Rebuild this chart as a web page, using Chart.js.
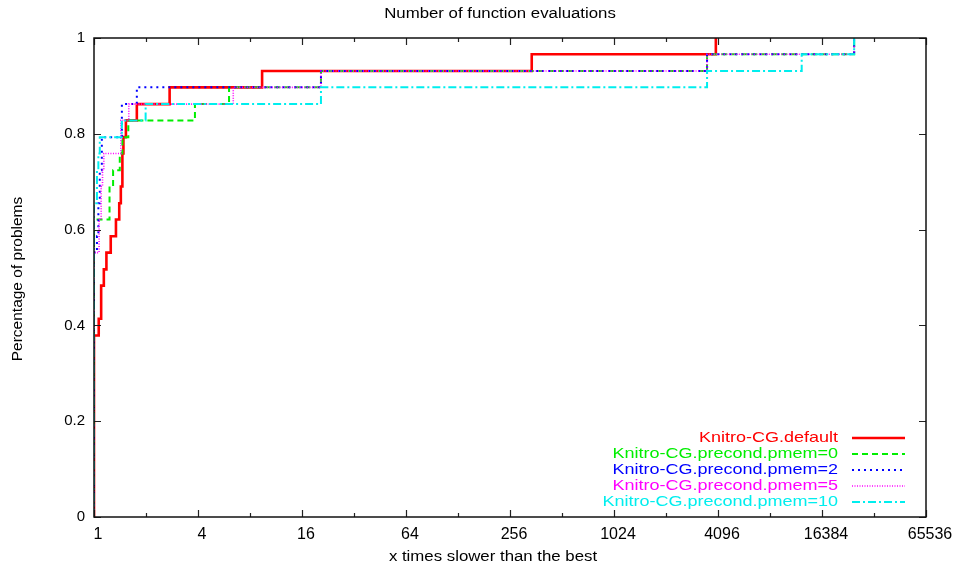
<!DOCTYPE html>
<html>
<head>
<meta charset="utf-8">
<script src="https://cdn.jsdelivr.net/npm/chart.js@4.4.1/dist/chart.umd.min.js"></script>
<style>
  html, body { margin: 0; padding: 0; background: #fff; }
  #wrap { width: 959px; height: 569px; }
</style>
</head>
<body>
<div id="wrap"><canvas id="chart" width="959" height="569"></canvas></div>
<script>
// performance ratio (x) where each profile steps up, and fraction solved (y)
var ratioDefault = [1, 1, 1.065, 1.10, 1.14, 1.18, 1.25, 1.34, 1.40, 1.43, 1.46, 1.48, 1.53, 1.77, 2.74, 9.4, 342, 3980];
var fracDefault  = [0, 0.379, 0.414, 0.483, 0.517, 0.552, 0.586, 0.621, 0.655, 0.690, 0.759, 0.793, 0.828, 0.862, 0.897, 0.931, 0.966, 1.0];

var ratioPmem0 = [1, 1, 1.23, 1.29, 1.41, 1.46, 1.58, 3.84, 6.05, 20.6, 3540, 25150];
var fracPmem0  = [0, 0.621, 0.690, 0.724, 0.759, 0.793, 0.828, 0.862, 0.897, 0.931, 0.966, 1.0];

var ratioPmem2 = [1, 1, 1.04, 1.06, 1.08, 1.11, 1.45, 1.77, 20.6, 3540, 25150];
var fracPmem2  = [0, 0.552, 0.586, 0.655, 0.724, 0.793, 0.862, 0.897, 0.931, 0.966, 1.0];

var ratioPmem5 = [1, 1, 1.07, 1.10, 1.12, 1.14, 1.43, 1.59, 6.4, 20.6, 3540, 25150];
var fracPmem5  = [0, 0.552, 0.621, 0.690, 0.724, 0.759, 0.828, 0.862, 0.897, 0.931, 0.966, 1.0];

var ratioPmem10 = [1, 1, 1.04, 1.06, 1.08, 1.45, 1.99, 20.6, 3540, 12500, 25150];
var fracPmem10  = [0, 0.655, 0.724, 0.759, 0.793, 0.828, 0.862, 0.897, 0.931, 0.966, 1.0];

var seriesNames = ["Knitro-CG.default", "Knitro-CG.precond.pmem=0", "Knitro-CG.precond.pmem=2",
                   "Knitro-CG.precond.pmem=5", "Knitro-CG.precond.pmem=10"];
var xTicks = [1, 2, 4, 8, 16, 32, 64, 128, 256, 512, 1024, 2048, 4096, 8192, 16384, 32768, 65536];
var xLabels = [1, 4, 16, 64, 256, 1024, 4096, 16384, 65536];
var yTicks = [0, 0.2, 0.4, 0.6, 0.8, 1];

var FONT = "'Liberation Sans', Arial, Helvetica, sans-serif";

function pts(xs, ys) {
    return xs.map(function (x, i) { return {x: x, y: ys[i]}; });
}

var styles = [
    {color: '#ff0000', width: 2.6, dash: []},
    {color: '#00ee00', width: 2, dash: [6, 4]},
    {color: '#0000ff', width: 2, dash: [2, 4]},
    {color: '#ff00ff', width: 1.6, dash: [1, 1.5]},
    {color: '#00eeee', width: 2, dash: [8, 3, 2, 3]}
];
var allX = [ratioDefault, ratioPmem0, ratioPmem2, ratioPmem5, ratioPmem10];
var allY = [fracDefault, fracPmem0, fracPmem2, fracPmem5, fracPmem10];

var datasets = seriesNames.map(function (name, i) {
    return {
        label: name,
        data: pts(allX[i], allY[i]),
        borderColor: styles[i].color,
        backgroundColor: styles[i].color,
        borderWidth: styles[i].width,
        borderDash: styles[i].dash,
        stepped: 'before',
        pointRadius: 0,
        fill: false,
        order: 5 - i
    };
});

function stretchedText(ctx, text, x, y, sx, align) {
    ctx.save();
    ctx.translate(x, y);
    ctx.scale(sx, 1);
    ctx.textAlign = align;
    ctx.fillText(text, 0, 0);
    ctx.restore();
}

// gnuplot-like frame, inward ticks, titles and legend inside the plot
var framePlugin = {
    id: 'frame',
    afterDatasetsDraw: function (chart) {
        var ctx = chart.ctx, a = chart.chartArea;
        var xs = chart.scales.x, ys = chart.scales.y;
        ctx.save();
        ctx.strokeStyle = '#222';
        ctx.lineWidth = 1.2;
        xTicks.forEach(function (v) {
            var px = Math.round(xs.getPixelForValue(v)) + 0.5;
            var len = xLabels.indexOf(v) >= 0 ? 7 : 4;
            ctx.beginPath();
            ctx.moveTo(px, a.bottom); ctx.lineTo(px, a.bottom - len);
            ctx.moveTo(px, a.top); ctx.lineTo(px, a.top + len);
            ctx.stroke();
        });
        yTicks.forEach(function (v) {
            var py = Math.round(ys.getPixelForValue(v)) + 0.5;
            ctx.beginPath();
            ctx.moveTo(a.left, py); ctx.lineTo(a.left + 7, py);
            ctx.moveTo(a.right, py); ctx.lineTo(a.right - 7, py);
            ctx.stroke();
        });
        ctx.lineWidth = 1.5;
        ctx.strokeStyle = '#111';
        ctx.strokeRect(a.left, a.top, a.right - a.left, a.bottom - a.top);

        // titles
        ctx.fillStyle = '#000';
        ctx.textBaseline = 'middle';
        ctx.font = '14px ' + FONT;
        stretchedText(ctx, 'Number of function evaluations', 500, 14, 1.2, 'center');
        stretchedText(ctx, 'x times slower than the best', 493, 557, 1.2, 'center');
        ctx.save();
        ctx.translate(18, 279);
        ctx.rotate(-Math.PI / 2);
        ctx.font = '15.5px ' + FONT;
        ctx.textAlign = 'center';
        ctx.fillText('Percentage of problems', 0, 0);
        ctx.restore();

        // legend
        ctx.font = '15px ' + FONT;
        chart.data.datasets.forEach(function (ds, i) {
            var y = 438 + i * 16;
            ctx.fillStyle = ds.borderColor;
            stretchedText(ctx, ds.label, 838, y, 1.2, 'right');
            ctx.beginPath();
            ctx.strokeStyle = ds.borderColor;
            ctx.lineWidth = ds.borderWidth;
            ctx.setLineDash(ds.borderDash);
            ctx.moveTo(852, y); ctx.lineTo(905, y);
            ctx.stroke();
            ctx.setLineDash([]);
        });
        ctx.restore();
    }
};

new Chart(document.getElementById('chart'), {
    type: 'line',
    data: {datasets: datasets},
    options: {
        responsive: false,
        animation: false,
        layout: {padding: {left: 0, right: 33, top: 38, bottom: 0}},
        plugins: {
            legend: {display: false},
            tooltip: {enabled: false}
        },
        scales: {
            x: {
                type: 'logarithmic',
                min: 1,
                max: 65536,
                grid: {display: false, drawTicks: false},
                border: {display: false},
                afterBuildTicks: function (scale) {
                    scale.ticks = xTicks.map(function (v) { return {value: v}; });
                },
                afterFit: function (scale) { scale.height = 52; },
                ticks: {
                    autoSkip: false,
                    maxRotation: 0,
                    padding: 8,
                    labelOffset: 4,
                    color: '#000',
                    font: {family: FONT, size: 16},
                    callback: function (v) { return xLabels.indexOf(v) >= 0 ? String(v) : ''; }
                }
            },
            y: {
                min: 0,
                max: 1,
                grid: {display: false, drawTicks: false},
                border: {display: false},
                afterBuildTicks: function (scale) {
                    scale.ticks = yTicks.map(function (v) { return {value: v}; });
                },
                afterFit: function (scale) { scale.width = 94; },
                ticks: {
                    padding: 9,
                    color: '#000',
                    font: {family: FONT, size: 15},
                    callback: function (v) { return (v === 0 || v === 1) ? String(v) : v.toFixed(1); }
                }
            }
        }
    },
    plugins: [framePlugin]
});
</script>
</body>
</html>
